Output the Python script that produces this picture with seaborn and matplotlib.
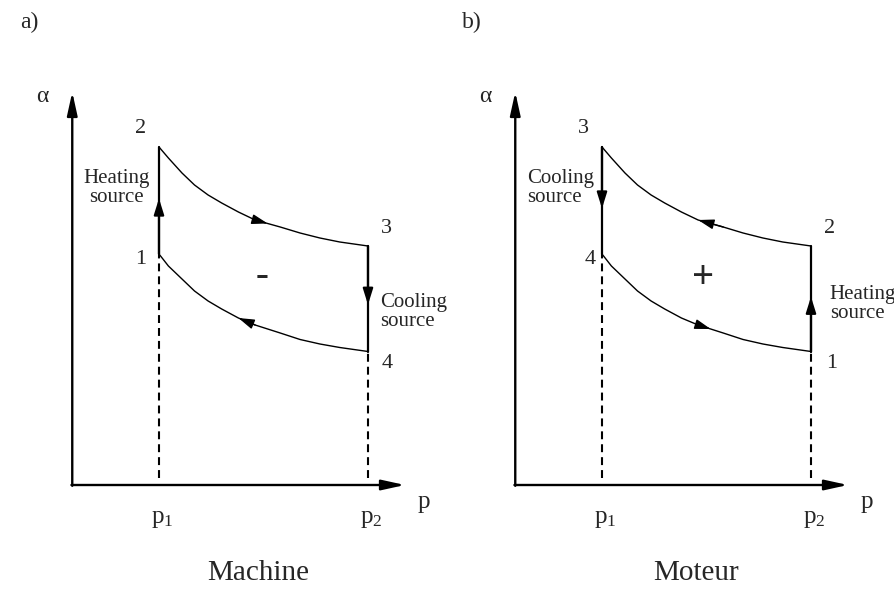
import matplotlib
matplotlib.use("Agg")
import matplotlib.pyplot as plt
import seaborn as sns

sns.set_style("white")
plt.rcParams['font.family'] = ['Liberation Serif', 'DejaVu Serif']
plt.rcParams['mathtext.default'] = 'regular'

# curve points (p in units where p1=1, p2=3)
p_curve = [1.00, 1.09, 1.22, 1.34, 1.47, 1.60, 1.76, 1.92, 2.16, 2.35, 2.54, 2.73, 3.00]
alpha_upper = [3.38, 3.27, 3.12, 3.00, 2.90, 2.82, 2.73, 2.65, 2.58, 2.52, 2.47, 2.43, 2.39]
alpha_lower = [2.31, 2.19, 2.06, 1.94, 1.84, 1.76, 1.67, 1.60, 1.52, 1.455, 1.41, 1.375, 1.335]

p_ticks = [1, 3]
p_tick_labels = ["p$_1$", "p$_2$"]

panel_letters = ["a)", "b)"]
panel_names = ["Machine", "Moteur"]
sign_labels = ["-", "+"]
# point numbers: upper-left, lower-left, upper-right, lower-right
point_labels = [["2", "1", "3", "4"], ["3", "4", "2", "1"]]
forward = [True, False]   # direction along the upper curve

fig = plt.figure(figsize=(8.95, 5.9), dpi=100)

head_axis = "-|>,head_length=1.0,head_width=0.22"
head_small = "-|>,head_length=0.8,head_width=0.25"


def arrow(ax, tip, tail, lw, style, ms):
    ax.annotate("", xy=tip, xytext=tail,
                arrowprops=dict(arrowstyle=style, lw=lw, color="k", fc="k",
                                shrinkA=0, shrinkB=0, mutation_scale=ms))


def seg(ax, x, y, **kw):
    sns.lineplot(x=x, y=y, sort=False, estimator=None, color="k", ax=ax, **kw)


for i in range(2):
    ax = fig.add_axes([(443 * i) / 895, 0, 445 / 895, 530 / 590])
    ax.set_xlim(-0.5215, 3.737)
    ax.set_ylim(-1.05, 4.25)
    ax.axis("off")
    ax.patch.set_visible(False)

    # axes with arrows
    arrow(ax, (0.17, 3.93), (0.17, -0.008), 1.7, head_axis, 14)
    arrow(ax, (3.354, 0), (0.17 - 0.008, 0), 1.7, head_axis, 14)
    ax.text(-0.12, 3.88, "α", fontsize=17, ha="center", va="center")
    ax.text(3.53, -0.17, "p", fontsize=18, ha="center", va="center")
    for pt, lab in zip(p_ticks, p_tick_labels):
        ax.text(pt + 0.03, -0.34, lab, fontsize=18, ha="center", va="center")

    # dashed guides
    for pt, a in zip(p_ticks, [alpha_lower[0], alpha_lower[-1]]):
        seg(ax, [pt, pt], [0.07, a], lw=1.5, linestyle=(0, (3.8, 2.4)))

    # cycle curves
    seg(ax, p_curve, alpha_upper, lw=1.0)
    seg(ax, p_curve, alpha_lower, lw=1.0)

    # vertical heat exchange lines
    for pt, lo, hi in [(1, alpha_lower[0], alpha_upper[0]),
                       (3, alpha_lower[-1], alpha_upper[-1])]:
        seg(ax, [pt, pt], [lo, hi], lw=1.6)

    mid_left = (alpha_lower[0] + alpha_upper[0]) / 2
    mid_right = (alpha_lower[-1] + alpha_upper[-1]) / 2
    mid_p = (p_curve[7] + p_curve[8]) / 2
    if forward[i]:
        # machine: 1->2 up, 2->3 along upper, 3->4 down, 4->1 back along lower
        arrow(ax, (1, mid_left + 0.02), (1, alpha_lower[0]), 1.6, head_small, 12)
        arrow(ax, (3, mid_right - 0.06), (3, alpha_upper[-1]), 1.6, head_small, 12)
        arrow(ax, (mid_p, (alpha_upper[7] + alpha_upper[8]) / 2),
              (p_curve[7], alpha_upper[7]), 1.0, head_small, 12)
        arrow(ax, (p_curve[6], alpha_lower[6]),
              (p_curve[7], alpha_lower[7]), 1.0, head_small, 12)
    else:
        # moteur: 1->2 up at p2, 2->3 back along upper, 3->4 down, 4->1 along lower
        arrow(ax, (1, mid_left - 0.08), (1, alpha_upper[0]), 1.6, head_small, 12)
        arrow(ax, (3, mid_right + 0.02), (3, alpha_lower[-1]), 1.6, head_small, 12)
        arrow(ax, (p_curve[7], alpha_upper[7]),
              (p_curve[8], alpha_upper[8]), 1.0, head_small, 12)
        arrow(ax, (mid_p, (alpha_lower[7] + alpha_lower[8]) / 2),
              (p_curve[7], alpha_lower[7]), 1.0, head_small, 12)

    labs = point_labels[i]
    ax.text(0.82, 3.56, labs[0], fontsize=16, ha="center", va="center")
    ax.text(0.82 + 0.07 * i, 2.26, labs[1], fontsize=16, ha="center", va="center")
    ax.text(3.18, 2.56, labs[2], fontsize=16, ha="center", va="center")
    ax.text(3.18 + 0.02 * i, 1.21, labs[3], fontsize=16, ha="center", va="center")

    if i == 0:
        ax.text(0.59, 2.97, "Heating\nsource", fontsize=15, ha="center",
                va="center", linespacing=1.0)
        ax.text(3.12, 1.73, "Cooling\nsource", fontsize=15, ha="left",
                va="center", linespacing=1.0)
        ax.text(1.99, 2.08, sign_labels[i], fontsize=28, fontweight="bold",
                ha="center", va="center")
    else:
        ax.text(0.28, 2.97, "Cooling\nsource", fontsize=15, ha="left",
                va="center", linespacing=1.0)
        ax.text(3.18, 1.81, "Heating\nsource", fontsize=15, ha="left",
                va="center", linespacing=1.0)
        ax.text(1.97, 2.07, sign_labels[i], fontsize=28, fontweight="bold",
                ha="center", va="center")

    fig.text((20 + 442 * i) / 895, 1 - 22 / 590, panel_letters[i],
             fontsize=17, ha="left", va="center")
    fig.text((258 + 438 * i) / 895, 1 - 573 / 590, panel_names[i],
             fontsize=21, ha="center", va="center")

fig.savefig("out.png", dpi=100)
